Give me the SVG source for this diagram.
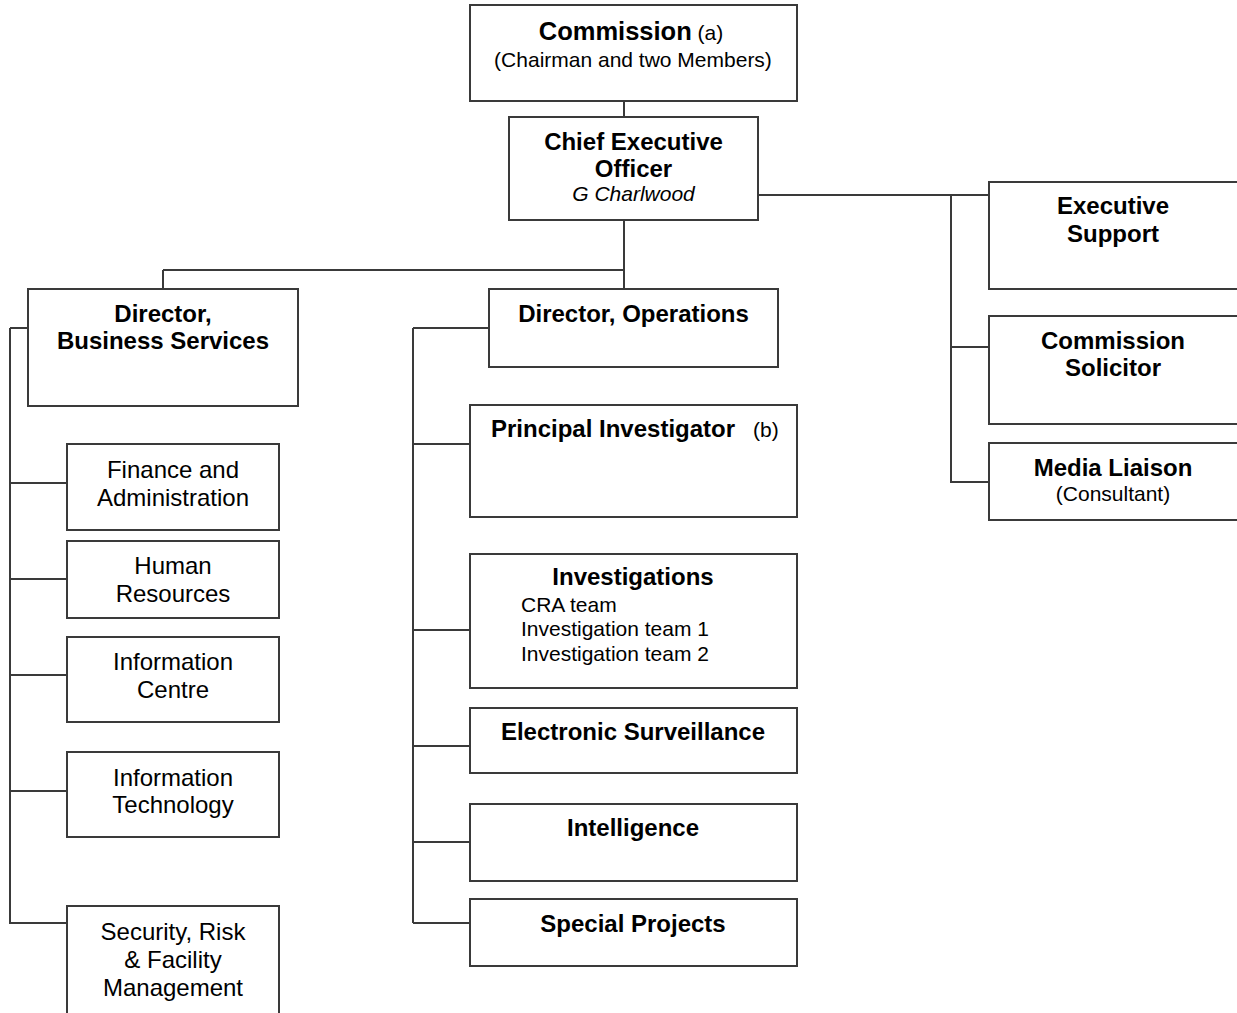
<svg xmlns="http://www.w3.org/2000/svg" width="1237" height="1013" viewBox="0 0 1237 1013">
<style>
.box{fill:#fff;stroke:#3a3a3a;stroke-width:2}
.ln{fill:none;stroke:#3a3a3a;stroke-width:2}
text{font-family:"Liberation Sans",Arial,sans-serif;fill:#000}
.b{font-weight:bold;font-size:24px}
.t{font-weight:bold;font-size:25.5px}
.r{font-size:24px}
.s{font-size:21px;font-weight:normal}
.c{text-anchor:middle}
.i{font-style:italic;font-size:21px}
</style>
<rect width="1237" height="1013" fill="#fff"/>
<g id="connectors">
<path class="ln" d="M624 101V117M624 220V289M163 270H624M163 270V289"/>
<path class="ln" d="M758 195H989M951 195V483M951 347H989M951 482H989"/>
<path class="ln" d="M10 328V924M10 328H28M10 483H67M10 579H67M10 675H67M10 791H67M10 923H67"/>
<path class="ln" d="M413 328V923M413 328H489M413 444H470M413 630H470M413 746H470M413 842H470M413 923H470"/>
</g>
<g id="commission">
<rect class="box" x="470" y="5" width="327" height="96"/>
<text class="c" x="631" y="40"><tspan class="t">Commission</tspan><tspan class="s"> (a)</tspan></text>
<text class="s c" x="633" y="67">(Chairman and two Members)</text>
</g>
<g id="ceo">
<rect class="box" x="509" y="117" width="249" height="103"/>
<text class="b c" x="633.5" y="150">Chief Executive</text>
<text class="b c" x="633.5" y="177">Officer</text>
<text class="i c" x="633.5" y="201">G Charlwood</text>
</g>
<g id="exec-support">
<rect class="box" x="989" y="182" width="260" height="107"/>
<text class="b c" x="1113" y="214">Executive</text>
<text class="b c" x="1113" y="242">Support</text>
</g>
<g id="commission-solicitor">
<rect class="box" x="989" y="316" width="260" height="108"/>
<text class="b c" x="1113" y="349">Commission</text>
<text class="b c" x="1113" y="376">Solicitor</text>
</g>
<g id="media-liaison">
<rect class="box" x="989" y="443" width="260" height="77"/>
<text class="b c" x="1113" y="476">Media Liaison</text>
<text class="s c" x="1113" y="501">(Consultant)</text>
</g>
<g id="dir-business">
<rect class="box" x="28" y="289" width="270" height="117"/>
<text class="b c" x="163" y="322">Director,</text>
<text class="b c" x="163" y="349">Business Services</text>
</g>
<g id="dir-operations">
<rect class="box" x="489" y="289" width="289" height="78"/>
<text class="b c" x="633.5" y="322">Director, Operations</text>
</g>
<g id="finance">
<rect class="box" x="67" y="444" width="212" height="86"/>
<text class="r c" x="173" y="478">Finance and</text>
<text class="r c" x="173" y="506">Administration</text>
</g>
<g id="hr">
<rect class="box" x="67" y="541" width="212" height="77"/>
<text class="r c" x="173" y="574">Human</text>
<text class="r c" x="173" y="602">Resources</text>
</g>
<g id="info-centre">
<rect class="box" x="67" y="637" width="212" height="85"/>
<text class="r c" x="173" y="670">Information</text>
<text class="r c" x="173" y="698">Centre</text>
</g>
<g id="it">
<rect class="box" x="67" y="752" width="212" height="85"/>
<text class="r c" x="173" y="786">Information</text>
<text class="r c" x="173" y="813">Technology</text>
</g>
<g id="security">
<rect class="box" x="67" y="906" width="212" height="130"/>
<text class="r c" x="173" y="940">Security, Risk</text>
<text class="r c" x="173" y="968">&amp; Facility</text>
<text class="r c" x="173" y="996">Management</text>
</g>
<g id="principal-investigator">
<rect class="box" x="470" y="405" width="327" height="112"/>
<text x="491" y="437"><tspan class="b">Principal Investigator</tspan><tspan class="s" x="753">(b)</tspan></text>
</g>
<g id="investigations">
<rect class="box" x="470" y="554" width="327" height="134"/>
<text class="b c" x="633" y="585">Investigations</text>
<text class="s" x="521" y="612">CRA team</text>
<text class="s" x="521" y="636">Investigation team 1</text>
<text class="s" x="521" y="661">Investigation team 2</text>
</g>
<g id="electronic-surveillance">
<rect class="box" x="470" y="708" width="327" height="65"/>
<text class="b c" x="633" y="740">Electronic Surveillance</text>
</g>
<g id="intelligence">
<rect class="box" x="470" y="804" width="327" height="77"/>
<text class="b c" x="633" y="836">Intelligence</text>
</g>
<g id="special-projects">
<rect class="box" x="470" y="899" width="327" height="67"/>
<text class="b c" x="633" y="932">Special Projects</text>
</g>
</svg>
